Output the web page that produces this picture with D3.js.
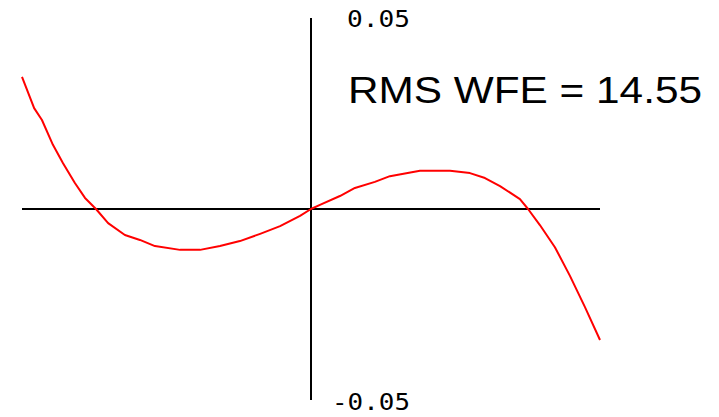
<!DOCTYPE html>
<html>
<head>
<meta charset="utf-8">
<script src="https://cdn.jsdelivr.net/npm/d3@7"></script>
<style>
  html, body { margin: 0; padding: 0; background: #ffffff; }
</style>
</head>
<body>
<script>
// pupil coordinate (-1..1) and wavefront error
const pupilX = [-1, -0.958, -0.931, -0.893, -0.858, -0.817, -0.782, -0.744, -0.702, -0.644,
  -0.592, -0.540, -0.453, -0.384, -0.315, -0.246, -0.176, -0.107, -0.038, 0,
  0.031, 0.100, 0.152, 0.221, 0.273, 0.377, 0.481, 0.550, 0.602, 0.654,
  0.723, 0.751, 0.792, 0.844, 0.896, 0.948, 1];
const wfe = [0.0346, 0.0264, 0.0233, 0.0168, 0.0120, 0.0068, 0.0029, 0, -0.0037, -0.0068,
  -0.0081, -0.0097, -0.0107, -0.0107, -0.0097, -0.0084, -0.0065, -0.0045, -0.0018, 0,
  0.0011, 0.0034, 0.0055, 0.0071, 0.0086, 0.0100, 0.0100, 0.0094, 0.0081, 0.0060,
  0.0026, 0, -0.0042, -0.0100, -0.0175, -0.0257, -0.0343];
const yTicks = [0.05, -0.05];
const rmsLabel = 'RMS WFE = 14.55';

const width = 719;
const height = 417;

const svg = d3.select('body')
  .append('svg')
  .attr('width', width)
  .attr('height', height)
  .style('display', 'block');

const x = d3.scaleLinear().domain([-1, 1]).range([22, 600]);
const y = d3.scaleLinear().domain([-0.05, 0.05]).range([400, 18]);

// axes as plain cross lines
svg.append('line')
  .attr('x1', x(-1)).attr('x2', x(1))
  .attr('y1', y(0)).attr('y2', y(0))
  .attr('stroke', '#000').attr('stroke-width', 2);

svg.append('line')
  .attr('x1', x(0)).attr('x2', x(0))
  .attr('y1', y(0.05)).attr('y2', y(-0.05))
  .attr('stroke', '#000').attr('stroke-width', 2);

const pts = pupilX.map((v, i) => [v, wfe[i]]);
svg.append('path')
  .datum(pts)
  .attr('fill', 'none')
  .attr('stroke', '#ff0000')
  .attr('stroke-width', 2)
  .attr('stroke-linejoin', 'round')
  .attr('d', d3.line().x(d => x(d[0])).y(d => y(d[1])));

// tick labels, right edge near x = 410
svg.selectAll('text.tick')
  .data(yTicks)
  .enter()
  .append('text')
  .attr('class', 'tick')
  .attr('x', d => d > 0 ? 347 : 332)
  .attr('y', d => d > 0 ? 27 : 410)
  .attr('font-family', '"DejaVu Sans Mono", monospace')
  .attr('font-size', 23)
  .attr('fill', '#000')
  .attr('textLength', d => d > 0 ? 63 : 78)
  .attr('lengthAdjust', 'spacingAndGlyphs')
  .text(d => d3.format('.2f')(d).replace('−', '-'));

svg.append('text')
  .attr('x', 348)
  .attr('y', 103)
  .attr('font-family', '"Liberation Sans", Arial, sans-serif')
  .attr('font-size', 36)
  .attr('fill', '#000')
  .attr('textLength', 354)
  .attr('lengthAdjust', 'spacingAndGlyphs')
  .text(rmsLabel);
</script>
</body>
</html>
